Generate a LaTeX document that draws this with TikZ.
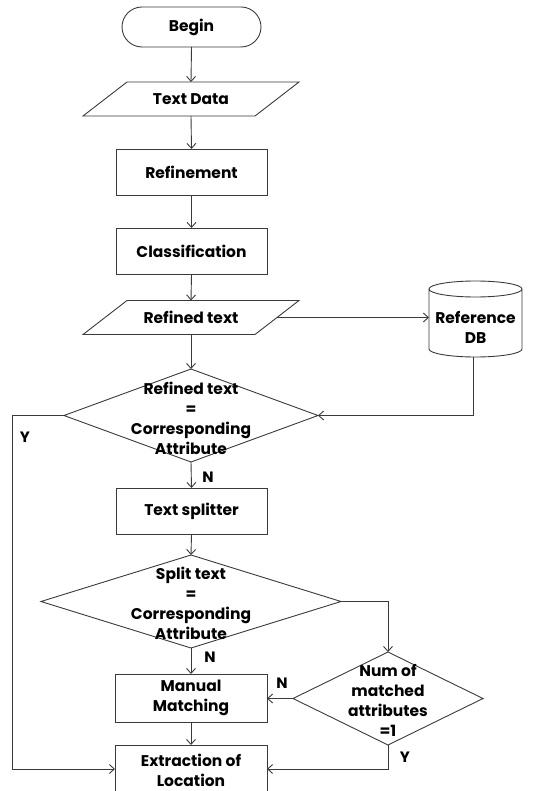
\documentclass[tikz,border=0pt]{standalone}
\usepackage{fontspec}
\setmainfont{Poppins}
\usetikzlibrary{shapes.geometric,arrows.meta,calc}
\definecolor{ink}{HTML}{3A3A3A}
\tikzset{
  base/.style={draw=ink, line width=0.9pt, inner sep=0pt, outer sep=0pt},
  procbox/.style={base, rectangle, minimum width=151pt, minimum height=46pt},
  termbox/.style={base, rectangle, rounded corners=20pt, minimum width=139pt, minimum height=40pt},
  iobox/.style={rectangle, inner sep=0pt, outer sep=0pt, minimum width=216pt, minimum height=34pt},
  decbox/.style={base, diamond},
  txt/.style={font=\fontsize{15.5}{20}\selectfont\bfseries, align=center, text=black},
  flow/.style={draw=ink, line width=0.9pt, -{Straight Barb[length=5pt,width=9pt]}},
  yn/.style={font=\fontsize{15}{16}\selectfont\bfseries, text=black}
}
\begin{document}
\begin{tikzpicture}[x=1pt,y=-1pt]
\useasboundingbox (0,0) rectangle (533,791);

% process chain
\node[termbox, txt] (begin) at (191.5,27) {Begin};
\node[iobox, txt] (td) at (191,99) {Text Data};
\draw[base] ($(td.north west)+(44,0)$) -- (td.north east) -- ($(td.south east)+(-44,0)$) -- (td.south west) -- cycle;
\node[procbox, txt] (ref) at (191.5,172) {Refinement};
\node[procbox, txt] (cls) at (191.5,251) {Classification};
\node[iobox, txt] (rt) at (191,317.5) {Refined text};
\draw[base] ($(rt.north west)+(44,0)$) -- (rt.north east) -- ($(rt.south east)+(-44,0)$) -- (rt.south west) -- cycle;

% reference database cylinder
\node[rectangle, inner sep=0pt, outer sep=0pt, minimum width=93pt, minimum height=76pt] (db) at (475.5,319) {};
\draw[base] ($(db.north west)+(0,8)$) -- ($(db.south west)+(0,-8)$)
  arc[start angle=180, end angle=360, x radius=46.5pt, y radius=8pt]
  -- ($(db.north east)+(0,8)$)
  arc[start angle=0, end angle=180, x radius=46.5pt, y radius=8pt]
  arc[start angle=180, end angle=360, x radius=46.5pt, y radius=8pt];
\node[txt] (dbt) at (475.5,327) {Reference\\DB};

% first decision
\node[decbox, minimum width=254pt, minimum height=93pt] (d1) at (191,415.5) {};
\node[txt] (d1t) at (191,418) {Refined text\\=\\Corresponding\\Attribute};

\node[procbox, txt] (ts) at (191.5,511) {Text splitter};

% second decision
\node[decbox, minimum width=300pt, minimum height=93pt] (d2) at (191,601.5) {};
\node[txt] (d2t) at (191,603) {Split text\\=\\Corresponding\\Attribute};

% third decision
\node[decbox, minimum width=190pt, minimum height=93pt] (d3) at (388,698.5) {};
\node[txt] (d3t) at (388,700.5) {Num of\\matched\\attributes\\=1};

\node[procbox, minimum width=152pt, minimum height=48pt, txt] (mm) at (191,698) {Manual\\Matching};
\node[procbox, minimum width=152pt, minimum height=48pt] (ex) at (191,769) {};
\node[txt] (ext) at (191,770) {Extraction of\\Location};

% connectors
\draw[flow] (begin.south) -- (td.north);
\draw[flow] (td.south) -- (ref.north);
\draw[flow] (ref.south) -- (cls.north);
\draw[flow] (cls.south) -- (rt.north);
\draw[flow] (rt.south) -- (d1.north);
\coordinate (rtout) at ($(rt.east)+(-22,0)$);
\draw[flow] (rtout) -- (rtout -| db.west);
\coordinate (dbout) at (473,357);
\draw[flow] (dbout) |- (d1.east);
\coordinate (ybend) at (12.5,415.5);
\draw[flow] (d1.west) -- (ybend) |- (ex.west);
\draw[flow] (d1.south) -- (ts.north);
\draw[flow] (ts.south) -- (d2.north);
\draw[flow] (d2.south) -- (mm.north);
\draw[flow] (d2.east) -| (d3.north);
\draw[flow] (d3.west) -- (d3.west -| mm.east);
\draw[flow] (mm.south) -- (ex.north);
\draw[flow] (d3.south) |- (ex.east);

% branch labels
\node[yn] (y1) at (25,437) {Y};
\node[yn] (n1) at (208,477) {N};
\node[yn] (n2) at (210,657) {N};
\node[yn] (n3) at (282,683) {N};
\node[yn] (y2) at (405,757) {Y};
\end{tikzpicture}
\end{document}
